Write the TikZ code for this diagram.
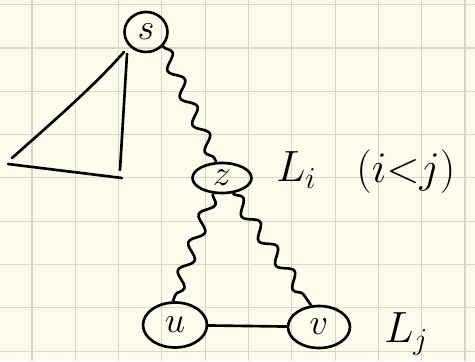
\documentclass[tikz,border=0pt]{standalone}
\usepackage{amsmath, amssymb}
\usepackage{xcolor}
\usepackage{tikz}
\usetikzlibrary{decorations.pathmorphing, shapes.geometric}
\usetikzlibrary{arrows.meta,positioning}

\definecolor{paper}{HTML}{FCFBEE}
\definecolor{gridgray}{HTML}{D8D6CB}

\tikzset{
    vert/.style={draw, ellipse, line width=1.5pt, inner sep=0pt},
    wavy/.style={line width=1.5pt, decorate,
        decoration={snake, amplitude=3.5pt, segment length=17pt}},
    ink/.style={line width=1.5pt, line cap=round},
    lbl/.style={anchor=west, inner sep=0pt}
}

\begin{document}
\begin{tikzpicture}[x=0.02cm, y=-0.02cm]
            \fill[paper] (0,0) rectangle (475,361);
            \useasboundingbox (0,0) rectangle (475,361);
            \foreach \k in {0,...,10}{
                    \draw[gridgray, line width=0.6pt] (32+43.3*\k,0) -- (32+43.3*\k,361);
                }
            \foreach \k in {0,...,8}{
                    \draw[gridgray, line width=0.6pt] (0,4.7+43.3*\k) -- (475,4.7+43.3*\k);
                }
            \node[vert, minimum width=0.86cm, minimum height=0.8cm] (s) at (146,32) {\fontsize{20}{22}\selectfont $s$};
            \node[vert, minimum width=1.18cm, minimum height=0.6cm] (z) at (222,178) {\fontsize{20}{22}\selectfont $z$};
            \node[vert, minimum width=1.28cm, minimum height=0.9cm] (u) at (175,325) {\fontsize{20}{22}\selectfont $u$};
            \node[vert, minimum width=1.24cm, minimum height=0.84cm] (v) at (319,327) {\fontsize{20}{22}\selectfont $v$};
            \draw[wavy] (s.-40) -- (z.110);
            \draw[wavy] (z.-120) -- (u.95);
            \draw[wavy] (z.-55) -- (v.110);
            \draw[ink] (u) -- (v);
            % the triangle below s
            \coordinate (apex) at (124,52);
            \coordinate (tip) at (12,158);
            \coordinate (base) at (122,178);
            \coordinate (foot) at (120,170);
            \draw[ink] (apex) .. controls (95,85) and (55,120) .. (tip);
            \draw[ink] (8,164) -- (base);
            \draw[ink] (127,54) -- (foot);
            \node[lbl] (li) at (276,170) {\fontsize{26}{30}\selectfont $L_i$};
            \node[lbl] (ij) at (356,172) {\fontsize{24}{28}\selectfont $(i{<}j)$};
            \node[lbl] (lj) at (384,334) {\fontsize{26}{30}\selectfont $L_j$};
        \end{tikzpicture}
\end{document}
